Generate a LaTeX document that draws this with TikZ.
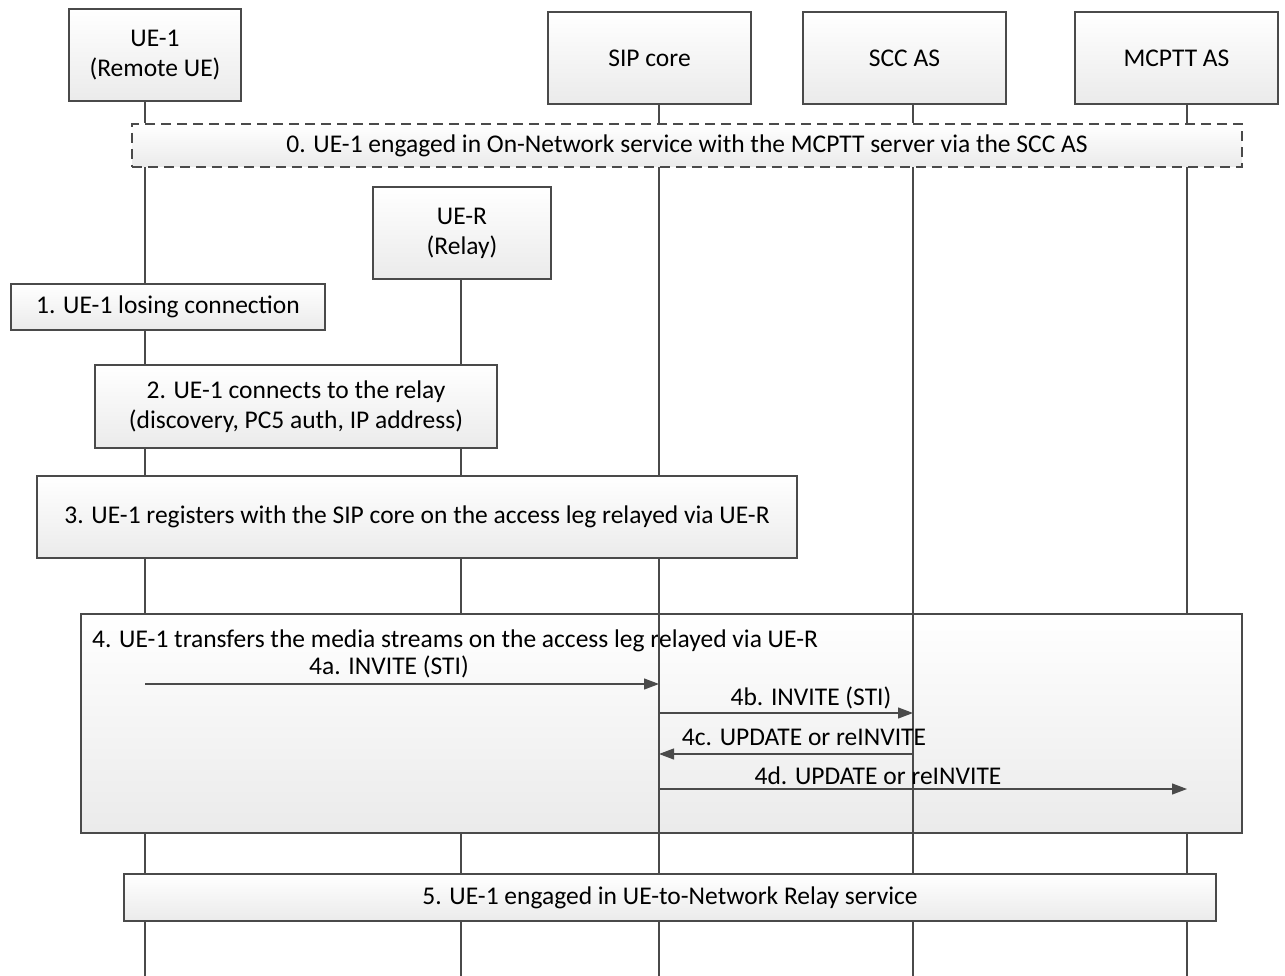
\documentclass[tikz,border=0pt]{standalone}
\usepackage{fontspec}
\setmainfont{Carlito}
\usepackage{tikz}
\usetikzlibrary{positioning,calc,arrows.meta}
\definecolor{lineclr}{HTML}{4A4A4A}
\tikzset{
  entity/.style={
    draw = lineclr,
    line width = 1.2pt,
    top color = white,
    bottom color = black!8,
    shape = rectangle,
    align = center,
    inner sep = 0pt,
    font = \fontsize{25.5}{30}\selectfont
  },
  stepbox/.style={
    entity
  },
  dashbox/.style={
    entity,
    dash pattern = on 10pt off 6pt
  },
  life/.style={
    draw = lineclr,
    line width = 1.2pt
  },
  msg/.style={
    draw = lineclr,
    line width = 1.2pt,
    -{Triangle[length=15pt,width=11pt]}
  },
  msglabel/.style={
    font = \fontsize{25.5}{30}\selectfont,
    inner sep = 0pt
  }
}

\begin{document}
\begin{tikzpicture}[x=1pt,y=-1pt]
        \useasboundingbox (0,0) rectangle (1285,976);

        % lifeline ends
        \coordinate (ue1end) at (145,976);
        \coordinate (uerend) at (461,976);
        \coordinate (sipend) at (659,976);
        \coordinate (sccend) at (913,976);
        \coordinate (mcpend) at (1187,976);

        \node[entity, minimum width=172pt, minimum height=92pt] (ue1) at (155,55) {UE-1\\(Remote UE)};
        \node[entity, minimum width=203pt, minimum height=92pt] (sip) at (649.5,58) {SIP core};
        \node[entity, minimum width=203pt, minimum height=92pt] (scc) at (904.5,58) {SCC AS};
        \node[entity, minimum width=203pt, minimum height=92pt] (mcp) at (1176.5,58) {MCPTT AS};
        \node[entity, minimum width=178pt, minimum height=92pt] (uer) at (462,233) {UE-R\\(Relay)};

        \draw[life] (ue1.south -| ue1end) -- (ue1end);
        \draw[life] (uer.south -| uerend) -- (uerend);
        \draw[life] (sip.south -| sipend) -- (sipend);
        \draw[life] (scc.south -| sccend) -- (sccend);
        \draw[life] (mcp.south -| mcpend) -- (mcpend);

        \node[dashbox, minimum width=1110pt, minimum height=43pt] (s0) at (687,145.5) {0. UE-1 engaged in On-Network service with the MCPTT server via the SCC AS};
        \node[stepbox, minimum width=314pt, minimum height=46pt] (s1) at (168,307) {1. UE-1 losing connection};
        \node[stepbox, minimum width=402pt, minimum height=83pt] (s2) at (296,406.5) {2. UE-1 connects to the relay\\(discovery, PC5 auth, IP address)};
        \node[stepbox, minimum width=760pt, minimum height=82pt] (s3) at (417,517) {3. UE-1 registers with the SIP core on the access leg relayed via UE-R};
        \node[stepbox, minimum width=1161pt, minimum height=219pt] (s4) at (661.5,723.5) {};
        \node[msglabel, anchor=west] (s4t) at (92,641) {4. UE-1 transfers the media streams on the access leg relayed via UE-R};

        % lifelines that run across step 4
        \draw[life] (s4.north -| sipend) -- (s4.south -| sipend);
        \draw[life] (s4.north -| sccend) -- (s4.south -| sccend);

        \coordinate (a4s) at (145,684);  \coordinate (a4e) at (659,684);
        \coordinate (b4s) at (659,713);  \coordinate (b4e) at (913,713);
        \coordinate (c4s) at (913,754);  \coordinate (c4e) at (659,754);
        \coordinate (d4s) at (659,789);  \coordinate (d4e) at (1187,789);

        \draw[msg] (a4s) -- (a4e);
        \draw[msg] (b4s) -- (b4e);
        \draw[msg] (c4s) -- (c4e);
        \draw[msg] (d4s) -- (d4e);

        \node[msglabel] (a4l) at (389,667) {4a. INVITE (STI)};
        \node[msglabel] (b4l) at (811,698) {4b. INVITE (STI)};
        \node[msglabel] (c4l) at (804,737) {4c. UPDATE or reINVITE};
        \node[msglabel] (d4l) at (878,776) {4d. UPDATE or reINVITE};

        \node[stepbox, minimum width=1092pt, minimum height=47pt] (s5) at (670,897.5) {5. UE-1 engaged in UE-to-Network Relay service};
        \end{tikzpicture}
\end{document}
